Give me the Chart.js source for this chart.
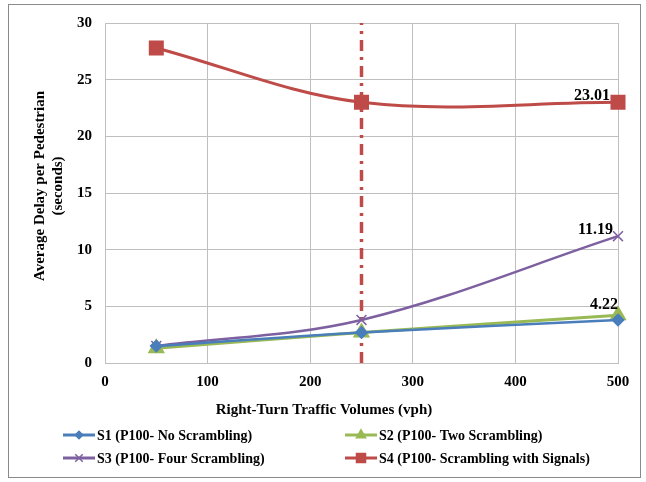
<!DOCTYPE html>
<html>
<head>
<meta charset="utf-8">
<script src="https://cdn.jsdelivr.net/npm/chart.js@4.4.0/dist/chart.umd.min.js"></script>
<style>
html,body{margin:0;padding:0;background:#fff;}
#wrap{position:relative;width:646px;height:482px;}
</style>
</head>
<body>
<div id="wrap"><canvas id="c" width="646" height="482"></canvas></div>
<script>
const volumes = [50, 250, 500];
const s1Values = [1.5, 2.7, 3.8];
const s2Values = [1.3, 2.7, 4.22];
const s3Values = [1.5, 3.8, 11.19];
const s4Values = [27.8, 23.0, 23.01];
const seriesNames = ['S1 (P100- No Scrambling)', 'S2 (P100- Two Scrambling)', 'S3 (P100- Four Scrambling)', 'S4 (P100- Scrambling with Signals)'];
const thresholdVolume = 250;
const xTicks = [0, 100, 200, 300, 400, 500];
const yTicks = [0, 5, 10, 15, 20, 25, 30];
const xTitle = 'Right-Turn Traffic Volumes (vph)';
const yTitle = ['Average Delay per Pedestrian', '(seconds)'];

const pts = (vals) => volumes.map((v, i) => ({x: v, y: vals[i]}));
const serif = "'Liberation Serif', 'Times New Roman', serif";

const datasets = [
  {label: seriesNames[0], data: pts(s1Values), borderColor: '#4A7EBB', backgroundColor: '#4A7EBB', pointStyle: 'rectRot', pointRadius: 5, borderWidth: 2.5, tension: 0.35, clip: false},
  {label: seriesNames[1], data: pts(s2Values), borderColor: '#98B954', backgroundColor: '#98B954', pointStyle: 'triangle', pointRadius: 7, borderWidth: 3, tension: 0.35, clip: false},
  {label: seriesNames[2], data: pts(s3Values), borderColor: '#7D60A0', backgroundColor: '#7D60A0', pointStyle: 'crossRot', pointRadius: 7, pointBorderWidth: 1.5, borderWidth: 2.5, tension: 0.35, clip: false},
  {label: seriesNames[3], data: pts(s4Values), borderColor: '#BE4B48', backgroundColor: '#BE4B48', pointStyle: 'rect', pointRadius: 8.5, borderWidth: 3, tension: 0.35, clip: false},
  {label: 'threshold', data: [{x: thresholdVolume, y: 0}, {x: thresholdVolume, y: 30}], borderColor: '#BE4B48', borderWidth: 3.5, borderDash: [11, 6, 3, 6], pointRadius: 0, tension: 0, clip: false}
];

const labelSpecs = [
  {ds: 3, idx: 2, dx: -8, dy: -2},
  {ds: 2, idx: 2, dx: -5, dy: -2},
  {ds: 1, idx: 2, dx: 0, dy: -6}
];

const extras = {
  id: 'extras',
  afterDatasetsDraw(chart) {
    const ctx = chart.ctx;
    ctx.save();
    ctx.fillStyle = '#000';
    ctx.font = "bold 16px " + serif;
    ctx.textAlign = 'right';
    ctx.textBaseline = 'alphabetic';
    labelSpecs.forEach(s => {
      const el = chart.getDatasetMeta(s.ds).data[s.idx];
      const v = chart.data.datasets[s.ds].data[s.idx].y;
      ctx.fillText(v.toFixed(2), el.x + s.dx, el.y + s.dy);
    });
    ctx.restore();
  },
  afterDraw(chart) {
    const ctx = chart.ctx;
    ctx.save();
    ctx.strokeStyle = '#8a8a8a';
    ctx.lineWidth = 1;
    ctx.strokeRect(8.5, 4.5, 632, 473);
    ctx.fillStyle = '#000';
    ctx.textAlign = 'center';
    ctx.textBaseline = 'middle';
    ctx.font = "bold 15px " + serif;
    ctx.fillText(xTitle, 324, 410);
    ctx.save();
    ctx.translate(40, 186);
    ctx.rotate(-Math.PI / 2);
    ctx.fillText(yTitle[0], 0, 0);
    ctx.fillText(yTitle[1], 0, 18);
    ctx.restore();
    const pos = [{x: 63, y: 435}, {x: 345, y: 435}, {x: 63, y: 458}, {x: 345, y: 458}];
    ctx.font = "bold 14px " + serif;
    ctx.textBaseline = 'middle';
    ctx.textAlign = 'left';
    for (let i = 0; i < 4; i++) {
      const ds = chart.data.datasets[i];
      const p = pos[i];
      ctx.strokeStyle = ds.borderColor;
      ctx.fillStyle = ds.backgroundColor;
      ctx.lineWidth = 3;
      ctx.beginPath();
      ctx.moveTo(p.x, p.y);
      ctx.lineTo(p.x + 32, p.y);
      ctx.stroke();
      ctx.lineWidth = 1.5;
      Chart.helpers.drawPoint(ctx, {pointStyle: ds.pointStyle, radius: ds.pointRadius * 0.75, rotation: 0, borderWidth: 1.5}, p.x + 16, p.y);
      ctx.fillStyle = '#000';
      ctx.fillText(ds.label, p.x + 34, p.y + 1);
    }
    ctx.restore();
  }
};

new Chart(document.getElementById('c'), {
  type: 'line',
  data: {datasets},
  options: {
    responsive: false,
    animation: false,
    layout: {padding: {left: 30, right: 28, top: 23, bottom: 64}},
    plugins: {legend: {display: false}, tooltip: {enabled: false}},
    scales: {
      x: {
        type: 'linear', min: 0, max: 500,
        afterBuildTicks: (s) => { s.ticks = xTicks.map(v => ({value: v})); },
        afterFit: (s) => { s.height = 55; },
        grid: {color: '#BFBFBF', drawTicks: false, lineWidth: 1},
        border: {color: '#BFBFBF'},
        ticks: {color: '#000', padding: 10, font: {family: serif, size: 15, weight: 'bold'}, maxRotation: 0},
        title: {display: false}
      },
      y: {
        type: 'linear', min: 0, max: 30,
        afterBuildTicks: (s) => { s.ticks = yTicks.map(v => ({value: v})); },
        afterFit: (s) => { s.width = 75; },
        grid: {color: '#BFBFBF', drawTicks: false, lineWidth: 1},
        border: {color: '#BFBFBF'},
        ticks: {color: '#000', padding: 13, font: {family: serif, size: 15, weight: 'bold'}},
        title: {display: false}
      }
    }
  },
  plugins: [extras]
});
</script>
</body>
</html>
